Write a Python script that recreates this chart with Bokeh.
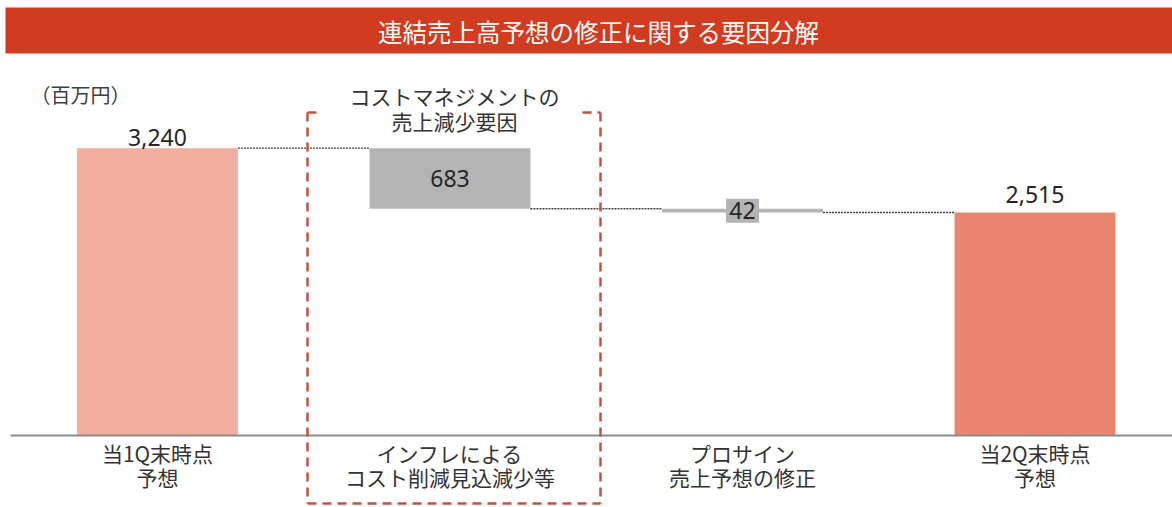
from bokeh.plotting import figure
from bokeh.models import Range1d, BoxAnnotation, Label, ColumnDataSource
from bokeh.core.properties import value
from bokeh.embed import file_html
from bokeh.resources import INLINE

# ---------------- data ----------------
categories = ["当1Q末時点\n予想", "インフレによる\nコスト削減見込減少等",
              "プロサイン\n売上予想の修正", "当2Q末時点\n予想"]
start_value = 3240
changes = [-683, -42]
end_value = 2515
title_text = "連結売上高予想の修正に関する要因分解"
unit_text = "（百万円）"
group_text = "コストマネジメントの\n売上減少要因"

# ---------------- waterfall geometry from data ----------------
idx = list(range(len(categories)))
bottoms, tops, levels = [0], [start_value], [start_value]
level = start_value
for c in changes:
    new = level + c
    bottoms.append(min(level, new))
    tops.append(max(level, new))
    level = new
    levels.append(level)
bottoms.append(0)
tops.append(end_value)

bar_colors = ["#f2ae9f", "#b4b4b4", "#b4b4b4", "#e9856f"]
W = 0.55

# ---------------- pixel helpers (layout only) ----------------
X0S, DXS = 157.0, 292.5
Y0S, DYS = 435.0, 287.3 / 3240
def sx(px):
    return (px - X0S) / DXS
def sy(py):
    return (Y0S - py) / DYS

p = figure(width=1172, height=507, x_range=Range1d(sx(0), sx(1172)),
           y_range=Range1d(sy(507), sy(0)), output_backend="svg",
           toolbar_location=None, x_axis_location=None, y_axis_location=None,
           min_border=0, outline_line_color=None,
           background_fill_color="white", border_fill_color="white")
p.grid.visible = False

# title bar
p.add_layout(BoxAnnotation(left=sx(5), top=sy(7), bottom=sy(53),
                           fill_color="#d13b20", fill_alpha=1.0,
                           line_alpha=0, level="underlay"))
p.add_layout(Label(x=sx(598), y=sy(31), text=title_text, text_align="center",
                   text_baseline="middle", text_color="white",
                   text_font="Noto Sans CJK JP", text_font_size="24.5px"))

# bars
src = ColumnDataSource(dict(x=idx, bottom=bottoms, top=tops, color=bar_colors))
p.vbar(x="x", bottom="bottom", top="top", width=W, fill_color="color",
       line_color=None, source=src)

# baseline
p.segment(x0=[sx(10)], y0=[0], x1=[sx(1172)], y1=[0],
          line_color="#8c8c8c", line_width=2)

# connectors
cx0 = [i + W / 2 for i in idx[:-1]]
cx1 = [i + 1 - W / 2 for i in idx[:-1]]
p.segment(x0=cx0, y0=levels, x1=cx1, y1=levels, line_color="#404040",
          line_width=1.3, line_dash="2 1")

# total labels
tot_x = [idx[0], idx[-1]]
tot_y = [start_value, end_value]
tot_t = [f"{start_value:,}", f"{end_value:,}"]
tot_dy = [-11, -18]
p.text(x=tot_x, y=tot_y, text=tot_t, y_offset=tot_dy, text_align="center",
       text_baseline="middle", text_color="#262626",
       text_font=value("Noto Sans"), text_font_size="23px")

# change labels (with gray label box)
ch_x = idx[1:-1]
ch_y = [(b + t) / 2 for b, t in zip(bottoms[1:-1], tops[1:-1])]
ch_t = [f"{abs(c):,}" for c in changes]
p.rect(x=ch_x, y=ch_y, width=33, height=24, width_units="screen",
       height_units="screen", fill_color="#b4b4b4", line_color=None)
p.text(x=ch_x, y=ch_y, text=ch_t, text_align="center", text_baseline="middle",
       text_color="#262626", text_font=value("Noto Sans"), text_font_size="23px")

# category labels
p.text(x=idx, y=[0] * len(idx), text=categories, y_offset=2, text_align="center",
       text_baseline="top", text_color="#333333",
       text_font=value("Noto Sans CJK JP"), text_font_size="21px",
       text_line_height=0.8)

# unit label
p.text(x=[sx(30)], y=[sy(94)], text=[unit_text], text_align="left",
       text_baseline="middle", text_color="#404040",
       text_font=value("Noto Sans CJK JP"), text_font_size="20px")

# dashed group box
bl, br, bt, bb = sx(307), sx(600), sy(112), sy(503)
gl, gr = sx(322), sx(582)
p.segment(x0=[bl, br, bl], y0=[bt, bt, bb], x1=[bl, br, br], y1=[bb, bb, bb],
          line_color="#bf5540", line_width=2.5, line_dash="9 6")
p.segment(x0=[bl, gr], y0=[bt, bt], x1=[gl, br], y1=[bt, bt],
          line_color="#bf5540", line_width=2.5, line_dash="9 6")
p.text(x=[sx(454)], y=[sy(80)], text=[group_text], text_align="center",
       text_baseline="top", text_color="#333333",
       text_font=value("Noto Sans CJK JP"), text_font_size="21px",
       text_line_height=0.86)

open("out.html", "w").write(file_html(p, INLINE, title="chart"))
